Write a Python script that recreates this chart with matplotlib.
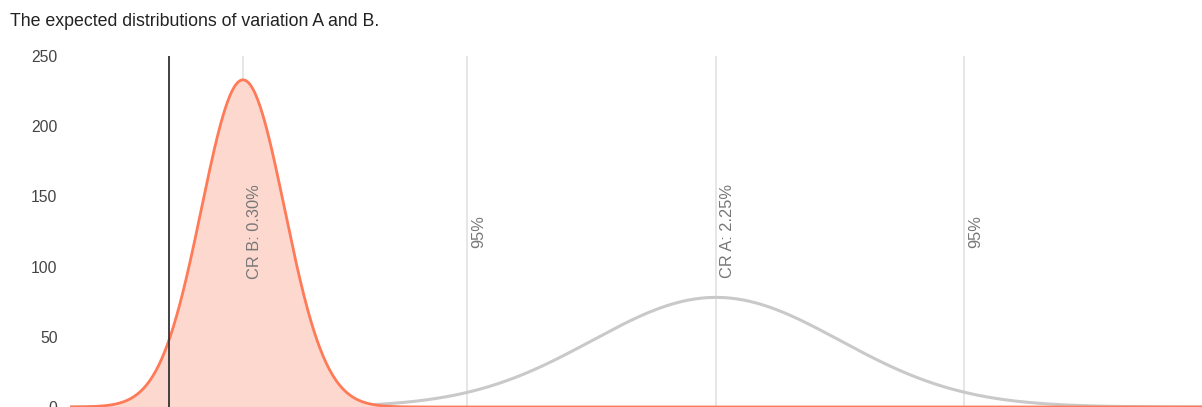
import numpy as np
import matplotlib
matplotlib.use("Agg")
import matplotlib.pyplot as plt

# ---- data ----
variations = ["A", "B"]
cr_mean = {"A": 2.25, "B": 0.30}        # conversion rate, %
cr_sd = {"A": 0.511, "B": 0.1712}       # std dev, %
ci95_A = [1.223, 3.272]                 # 95% bounds of A, %
marker_labels = ["CR B: 0.30%", "95%", "CR A: 2.25%", "95%"]
marker_x = [0.30, ci95_A[0], 2.25, ci95_A[1]]
baseline_x = -0.006
y_ticks = [0, 50, 100, 150, 200, 250]
title = "The expected distributions of variation A and B."

plt.rcParams['font.family'] = ['Liberation Sans', 'DejaVu Sans']

W, H = 1202, 407
fig = plt.figure(figsize=(W / 100, H / 100), dpi=100)
L, R, T, B = 70, 1202, 56, 407
ax = fig.add_axes([L / W, 1 - B / H, (R - L) / W, (B - T) / H])

xmin = 0.30 + (L - 243) / 242.6
xmax = 0.30 + (R - 243) / 242.6
x = np.linspace(xmin, xmax, 1500)


def pdf(xv, mu, sd):
    m, s = mu / 100, sd / 100
    return np.exp(-0.5 * ((xv / 100 - m) / s) ** 2) / (s * np.sqrt(2 * np.pi))


yA = pdf(x, cr_mean["A"], cr_sd["A"])
yB = pdf(x, cr_mean["B"], cr_sd["B"])

# vertical gray markers
for mx in marker_x:
    ax.axvline(mx, color="#e2e2e2", lw=1.2, zorder=1)

ax.plot(x, yA, color="#c9c9c9", lw=2.2, zorder=2, solid_capstyle="round")
ax.fill_between(x, 0, yB, color="#fcd8cf", lw=0, zorder=3)
ax.plot(x, yB, color="#ff7a57", lw=2.0, zorder=4)

ax.axvline(baseline_x, color="#333333", lw=1.3, zorder=5)

for mx, lab in zip(marker_x, marker_labels):
    ax.text(mx + 0.018, 0.5, lab, rotation=90, transform=ax.get_xaxis_transform(),
            ha="left", va="center", fontsize=11.8, color="#777777", zorder=6)

ax.set_xlim(xmin, xmax)
ax.set_ylim(0, 250)
ax.set_yticks(y_ticks)
ax.set_yticklabels([str(v) for v in y_ticks])
ax.set_xticks([])
for s in ax.spines.values():
    s.set_visible(False)
ax.tick_params(axis="y", length=0, pad=9, labelsize=11.3, labelcolor="#444444")

fig.text(10 / W, 1 - 22 / H, title, ha="left", va="center", fontsize=12.8, color="#222222")

fig.savefig("out.png", dpi=100)
